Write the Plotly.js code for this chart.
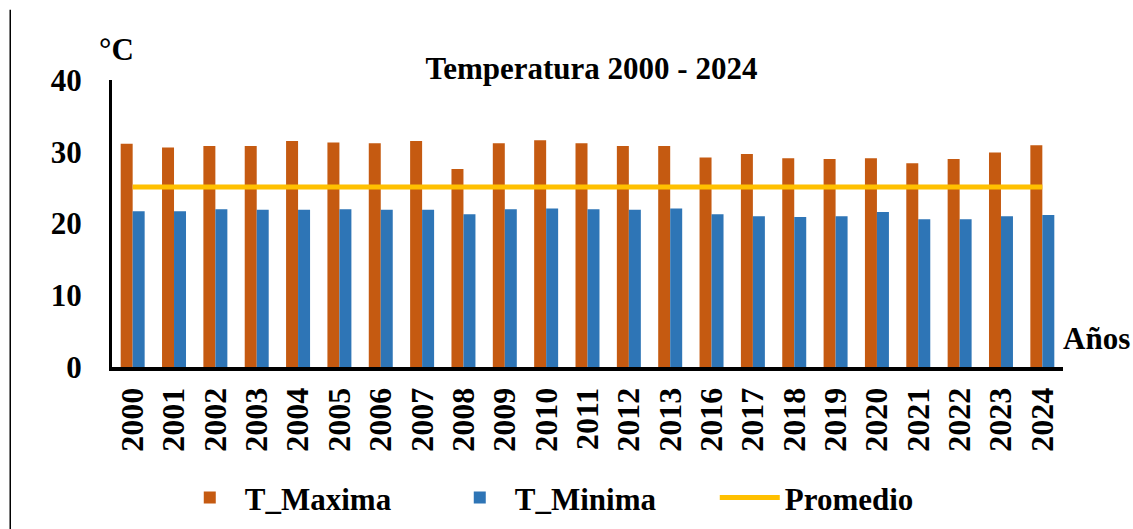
<!DOCTYPE html>
<html><head><meta charset="utf-8">
<script src="https://cdn.plot.ly/plotly-3.0.1.min.js"></script>
<style>html,body{margin:0;padding:0;background:#fff}#chart{width:1133px;height:529px}</style>
</head><body><div id="chart"></div>
<script>
const years = ["2000","2001","2002","2003","2004","2005","2006","2007","2008","2009","2010","2011","2012","2013","2016","2017","2018","2019","2020","2021","2022","2023","2024"];
const tMaxima = [31.1,30.6,30.8,30.8,31.5,31.3,31.2,31.5,27.6,31.2,31.6,31.2,30.8,30.8,29.2,29.7,29.1,29.0,29.1,28.4,29.0,29.9,30.9];
const tMinima = [21.7,21.7,22.0,21.9,21.9,22.0,21.9,21.9,21.3,22.0,22.1,22.0,21.9,22.1,21.3,21.0,20.9,21.0,21.6,20.6,20.6,21.0,21.2];
const promedio = years.map(() => 25.1);
const yTicks = [0,10,20,30,40];

const fam = "Liberation Serif";
const f = (size) => ({family: fam, size: size, color: "#000", weight: "bold"});
const traces = [
  {type:"bar", name:"T_Maxima", x:years, y:tMaxima, marker:{color:"#C55A11"}},
  {type:"bar", name:"T_Minima", x:years, y:tMinima, marker:{color:"#2E75B6"}},
  {type:"scatter", mode:"lines", name:"Promedio", x:years, y:promedio, line:{color:"#FFC000", width:5}}
];
const layout = {
  width:1133, height:529,
  margin:{l:112, r:70, t:80, b:162, autoexpand:false},
  paper_bgcolor:"#fff", plot_bgcolor:"#fff",
  font:f(31),
  barmode:"group", bargap:0.42, bargroupgap:0,
  title:{text:"<b>Temperatura 2000 - 2024</b>", x:0.522, xanchor:"center", y:0.871, yanchor:"middle", font:f(31)},
  xaxis:{type:"category", tickangle:-90, tickfont:f(32), automargin:false,
         showline:true, linecolor:"#000", linewidth:4, ticks:"", showgrid:false, zeroline:false, ticklabelstandoff:4},
  yaxis:{range:[0,40], tickvals:yTicks, ticktext:yTicks.map(String), tickfont:f(31), automargin:false,
         showline:true, linecolor:"#000", linewidth:3, ticks:"", showgrid:false, zeroline:false, ticklabelstandoff:21},
  showlegend:true,
  legend:{orientation:"h", x:0.066, xanchor:"left", y:-0.456, yanchor:"middle",
          font:f(31), itemwidth:60, tracegroupgap:0, entrywidth:195, entrywidthmode:"pixels"},
  annotations:[
    {xref:"paper", yref:"paper", x:-0.016, y:1.105, xanchor:"left", yanchor:"middle", showarrow:false,
     text:"<b>°C</b>", font:f(31)},
    {xref:"paper", yref:"paper", x:0.998, y:0.1, xanchor:"left", yanchor:"middle", showarrow:false,
     text:"<b>Años</b>", font:f(31)}
  ],
  shapes:[
    {type:"line", xref:"paper", yref:"paper", x0:-0.107, x1:-0.107, y0:-0.6, y1:1.245, line:{color:"#000", width:1.5}}
  ]
};
Plotly.newPlot("chart", traces, layout, {displayModeBar:false, staticPlot:true});
</script></body></html>
